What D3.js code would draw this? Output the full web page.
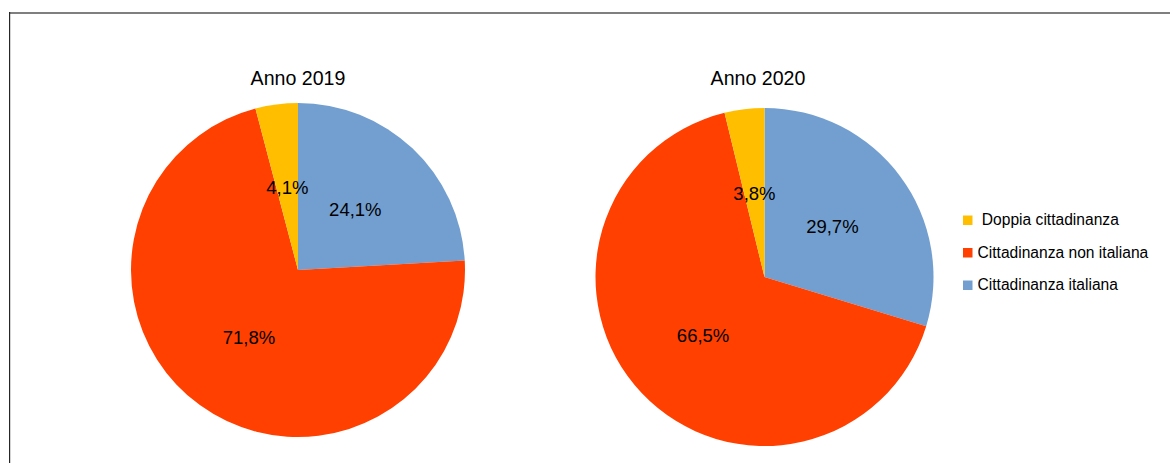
<!DOCTYPE html>
<html>
<head>
<meta charset="utf-8">
<script src="https://cdn.jsdelivr.net/npm/d3@7"></script>
<style>
  html, body { margin: 0; padding: 0; background: #fff; }
  svg { display: block; }
  text { font-family: "Liberation Sans", Arial, sans-serif; fill: #000; }
</style>
</head>
<body>
<svg id="chart" width="1170" height="463"></svg>
<script>
// Slice order, clockwise from 12 o'clock
const categories = ["Cittadinanza italiana", "Cittadinanza non italiana", "Doppia cittadinanza"];
const colors = ["#729fcf", "#ff4000", "#ffbf00"];
const years = ["Anno 2019", "Anno 2020"];
const values2019 = [24.1, 71.8, 4.1];
const values2020 = [29.7, 66.5, 3.8];
// Legend entries, top to bottom (the first label carries a leading space)
const legendLabels = [" Doppia cittadinanza", "Cittadinanza non italiana", "Cittadinanza italiana"];
const legendColors = ["#ffbf00", "#ff4000", "#729fcf"];

const svg = d3.select("#chart");

// Frame
svg.append("rect").attr("x", 9).attr("y", 12).attr("width", 1161).attr("height", 2).attr("fill", "#7f7f7f");
svg.append("rect").attr("x", 9).attr("y", 12).attr("width", 1.2).attr("height", 451).attr("fill", "#262626");

const pies = [
  { title: years[0], values: values2019, cx: 298, cy: 270, r: 167, tx: 298 },
  { title: years[1], values: values2020, cx: 764.5, cy: 277, r: 169, tx: 758 }
];

const pie = d3.pie().sort(null).value(d => d);
const fmt = v => d3.format(".1f")(v).replace(".", ",") + "%";

pies.forEach(p => {
  const g = svg.append("g").attr("transform", `translate(${p.cx},${p.cy})`);
  const arc = d3.arc().innerRadius(0).outerRadius(p.r);
  const labelArc = d3.arc().innerRadius(p.r * 0.5).outerRadius(p.r * 0.5);
  const arcs = pie(p.values);

  g.selectAll("path.slice")
    .data(arcs)
    .join("path")
    .attr("class", "slice")
    .attr("d", arc)
    .attr("fill", (d, i) => colors[i]);

  g.selectAll("text.val")
    .data(arcs)
    .join("text")
    .attr("class", "val")
    .attr("transform", d => `translate(${labelArc.centroid(d)})`)
    .attr("text-anchor", "middle")
    .attr("dy", "0.36em")
    .style("font-size", "18.5px")
    .text(d => fmt(d.data));

  svg.append("text")
    .attr("x", p.tx)
    .attr("y", 85)
    .attr("text-anchor", "middle")
    .style("font-size", "19.6px")
    .text(p.title);
});

// Legend
const legend = svg.append("g");
const legendY = d3.scaleLinear().domain([0, 2]).range([220, 285]);
legendLabels.forEach((lab, i) => {
  const y = legendY(i);
  legend.append("rect")
    .attr("x", 963).attr("y", y - 4.5)
    .attr("width", 9.5).attr("height", 9.5)
    .attr("fill", legendColors[i]);
  legend.append("text")
    .attr("x", 977.5).attr("y", y + 5.3)
    .style("font-size", "15.6px")
    .style("white-space", "pre")
    .text(lab);
});
</script>
</body>
</html>
